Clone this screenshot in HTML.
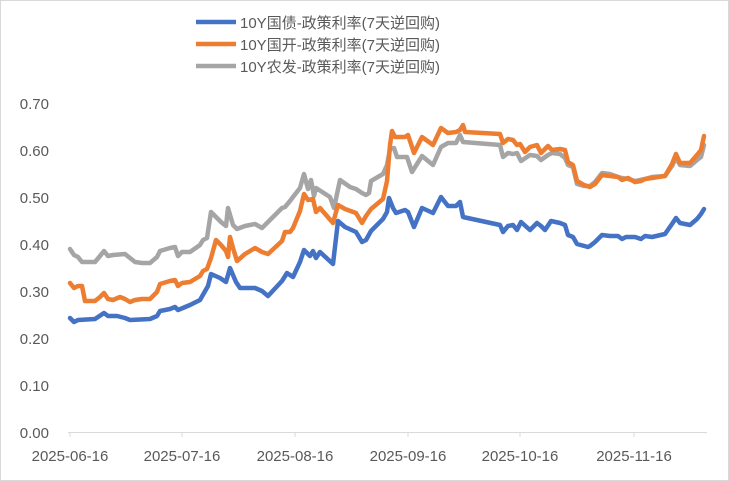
<!DOCTYPE html>
<html><head><meta charset="utf-8"><style>
html,body{margin:0;padding:0;background:#fff;}
svg{display:block;font-family:"Liberation Sans","Noto Sans CJK SC",sans-serif;}
</style></head><body>
<svg width="729" height="481" viewBox="0 0 729 481" xmlns="http://www.w3.org/2000/svg">
<rect x="0.5" y="0.5" width="728" height="480" fill="#fff" stroke="#d9d9d9"/>
<g font-size="15" fill="#595959" text-anchor="end">
<text x="49" y="109">0.70</text><text x="49" y="156">0.60</text><text x="49" y="203">0.50</text>
<text x="49" y="250">0.40</text><text x="49" y="297">0.30</text><text x="49" y="344">0.20</text>
<text x="49" y="391">0.10</text><text x="49" y="438">0.00</text>
</g>
<line x1="68" y1="432.5" x2="707" y2="432.5" stroke="#d9d9d9"/>
<g stroke="#d9d9d9"><line x1="70" y1="432" x2="70" y2="437"/><line x1="182" y1="432" x2="182" y2="437"/><line x1="295" y1="432" x2="295" y2="437"/><line x1="408" y1="432" x2="408" y2="437"/><line x1="520" y1="432" x2="520" y2="437"/><line x1="634" y1="432" x2="634" y2="437"/></g>
<g font-size="15" fill="#595959" text-anchor="middle">
<text x="70" y="461">2025-06-16</text><text x="182" y="461">2025-07-16</text><text x="295" y="461">2025-08-16</text>
<text x="408" y="461">2025-09-16</text><text x="520" y="461">2025-10-16</text><text x="634" y="461">2025-11-16</text>
</g>
<g fill="none" stroke-width="4.5" stroke-linejoin="round" stroke-linecap="round">
<polyline stroke="#a5a5a5" points="70,249 74,255 78,257 82,262 95,262 100,256 104,251 108,256 113,255 125,254 130,258 135,262 142,263 150,263 157,257 160,251 170,248 175,247 178,256 182,252 190,252 200,245 203,240 207,238 211,212 216,217 221,222 226,226 228,208 233,225 237,229 245,226 255,224 262,228 268,222 282,208 285,207 290,201 293,197 300,188 304,174 308,189 311,180 314,196 316,188 330,197 334,208 340,180 350,187 356,189 362,193 366,195 369,193 371,181 383,174 387,165 390,149 394,148 397,157 407,157 412,172 422,156 433,165 441,147 448,143 456,143 460,135 463,142 500,145 503,157 508,153 513,154 517,153 521,161 530,155 537,156 541,160 548,155 552,153 560,154 565,158 568,165 573,167 577,184 584,186 590,186 595,182 602,173 610,174 618,177 622,178 628,179 635,181 645,179 652,177 665,176 672,166 676,158 680,165 690,166 697,160 701,157 704,145"/>
<polyline stroke="#ed7d31" points="70,283 74,288 78,286 82,286 85,301 95,301 100,297 104,293 108,299 113,300 120,297 125,299 130,302 135,300 142,299 150,299 157,292 160,284 170,281 175,280 178,286 182,283 190,282 200,276 203,271 207,269 211,258 216,240 221,245 226,251 228,257 230,237 233,248 237,261 245,254 255,248 262,252 268,254 282,241 285,232 290,232 293,228 300,211 304,194 308,200 313,199 316,212 320,208 333,223 338,205 345,209 356,213 362,223 366,216 371,209 383,199 387,181 390,145 392,131 395,137 405,137 408,135 414,153 422,137 433,145 441,128 448,133 456,132 460,130 463,125 465,132 500,134 503,143 508,139 513,140 517,145 520,144 525,152 530,147 537,145 541,153 548,146 552,150 560,149 565,150 568,162 573,165 577,181 584,185 590,187 595,184 602,175 610,176 618,177 622,180 628,178 635,182 641,181 645,179 652,178 665,176 672,164 676,154 680,163 690,163 697,155 701,150 704,136"/>
<polyline stroke="#4472c4" points="70,318 74,322 78,320 95,319 104,313 108,316 117,316 125,318 130,320 150,319 157,316 160,311 170,309 175,307 178,310 190,305 200,300 208,286 211,274 220,278 226,282 230,268 236,282 240,288 255,288 262,291 268,296 282,281 287,273 293,277 300,262 304,250 306,252 310,256 313,251 316,258 320,252 333,264 338,221 345,227 356,232 362,242 366,240 371,231 383,219 387,212 389,198 393,208 396,213 405,210 408,212 414,227 422,208 433,213 441,197 448,206 456,206 460,202 463,217 500,225 503,232 508,226 513,225 517,230 521,222 530,230 537,223 541,226 545,230 551,221 560,223 565,225 568,235 573,237 577,244 588,247 590,246 595,242 602,235 610,236 618,236 622,239 626,237 635,237 641,239 645,236 652,237 665,234 672,224 676,218 680,223 690,225 697,219 701,214 704,209"/>
</g>
<g font-size="15" fill="#595959">
<line x1="196" y1="22" x2="236" y2="22" stroke="#4472c4" stroke-width="4.5"/>
<text x="240" y="28">10Y国债-政策利率(7天逆回购)</text>
<line x1="196" y1="44" x2="236" y2="44" stroke="#ed7d31" stroke-width="4.5"/>
<text x="240" y="50">10Y国开-政策利率(7天逆回购)</text>
<line x1="196" y1="66" x2="236" y2="66" stroke="#a5a5a5" stroke-width="4.5"/>
<text x="240" y="72">10Y农发-政策利率(7天逆回购)</text>
</g>
</svg>
</body></html>
